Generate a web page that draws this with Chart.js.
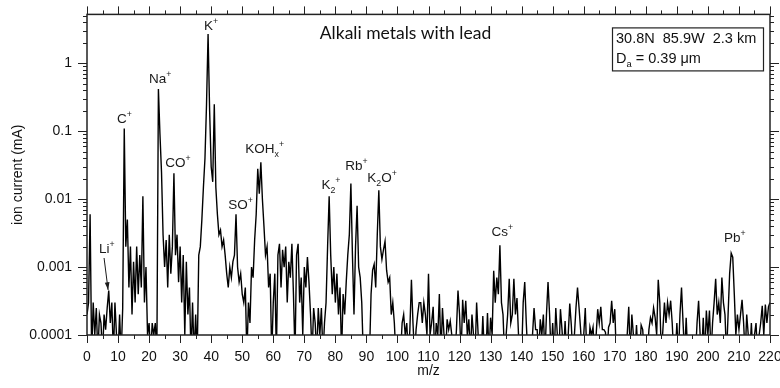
<!DOCTYPE html>
<html>
<head>
<meta charset="utf-8">
<script src="https://cdn.jsdelivr.net/npm/chart.js@4.4.1/dist/chart.umd.min.js"></script>
<style>
  html, body { margin: 0; padding: 0; background: #fff; }
</style>
</head>
<body>
<canvas id="spectrum" width="780" height="388"></canvas>
<script>
// m/z is sampled every half unit, starting at 0
const mzStep = 0.5;

// ion current (mA), one row per 10 m/z; anything under 1e-4 drops off the axis
const ionCurrent = [
  2e-4, 3e-4, 6e-3, 5e-5, 3e-4, 1e-4, 2.5e-4, 5e-5, 2e-4, 1.5e-4, 5e-5, 2e-4, 1.2e-4, 2.5e-4, 4.5e-4, 1.5e-4, 3e-4, 5e-5, 3e-4, 1e-4,
  5e-5, 2e-4, 5e-5, 2.5e-4, 0.11, 2e-3, 5e-3, 5e-4, 2e-3, 2e-4, 1.2e-3, 3e-4, 2e-3, 4e-4, 1.5e-3, 5e-4, 0.011, 3e-4, 1e-3, 1e-4,
  1.5e-4, 5e-5, 1.5e-4, 1e-4, 1.5e-4, 5e-5, 0.42, 0.09, 0.025, 3e-3, 1e-3, 2.5e-3, 5e-4, 3e-3, 8e-4, 2e-3, 0.024, 1.5e-3, 3e-3, 6e-4,
  2e-3, 3e-4, 1.5e-3, 1e-4, 1.2e-3, 2e-4, 5e-4, 5e-5, 3e-4, 5e-5, 2e-4, 5e-5, 1.5e-3, 2e-3, 5e-3, 0.015, 0.04, 0.25, 2.7, 0.2,
  0.03, 0.018, 0.25, 0.015, 6e-3, 3e-3, 3.5e-3, 2e-3, 2.5e-3, 1.5e-3, 8e-4, 5e-4, 1e-3, 7e-4, 1.2e-3, 1.5e-3, 6e-3, 1e-3, 6e-4, 8e-4,
  4e-4, 3e-4, 5e-4, 5e-5, 3e-4, 1.5e-4, 1e-3, 7e-4, 2.5e-3, 6e-3, 0.028, 0.012, 0.035, 0.01, 4e-3, 1.5e-3, 2e-3, 5e-4, 8e-4, 5e-5,
  3e-4, 8e-4, 5e-5, 1.5e-3, 2.2e-3, 5e-4, 1.8e-3, 1e-3, 2e-3, 3e-4, 1.2e-3, 7e-4, 2.2e-3, 4e-4, 5e-5, 1.5e-3, 2.2e-3, 3e-4, 7e-4, 1e-4,
  1e-3, 5e-4, 1.4e-3, 6e-4, 2e-4, 5e-5, 2.5e-4, 1.5e-4, 5e-5, 2.5e-4, 1e-4, 2.5e-4, 5e-5, 1.5e-4, 3e-4, 2e-3, 0.011, 1.5e-3, 4e-4, 1e-3,
  3e-4, 8e-4, 2e-4, 5e-4, 5e-5, 4e-4, 2e-4, 6e-4, 1.5e-3, 3e-3, 0.017, 1.5e-3, 2e-4, 2e-3, 8e-3, 1e-3, 7e-4, 3e-4, 5e-5, 1e-4,
  5e-5, 1e-4, 5e-5, 4e-4, 9e-4, 1.1e-3, 5e-4, 3e-3, 0.0135, 2e-3, 1.3e-3, 1.8e-3, 2.4e-3, 9e-4, 6e-4, 7e-4, 2e-4, 3e-4, 1.5e-4, 5e-5,
  5e-5, 1e-4, 5e-5, 1.5e-4, 2e-4, 1e-4, 1.5e-4, 5e-5, 1.2e-4, 6.5e-4, 1.5e-4, 5e-5, 1.2e-4, 2e-4, 3e-4, 3e-4, 1.5e-4, 3e-4, 2e-4, 1e-4,
  8e-4, 1e-4, 1.5e-4, 2.6e-4, 5e-5, 1.5e-4, 1e-4, 4e-4, 5e-5, 2.5e-4, 1e-4, 5e-5, 1.7e-4, 1.2e-4, 1.6e-4, 1e-4, 5e-5, 5e-5, 1.2e-4, 4.5e-4,
  2e-4, 5e-5, 3.3e-4, 1.5e-4, 3.2e-4, 1e-4, 1.7e-4, 5e-5, 2e-4, 1e-4, 5e-5, 3e-4, 1e-4, 5e-5, 5e-5, 1.9e-4, 5e-5, 5e-5, 2.1e-4, 5e-5,
  1.8e-4, 1e-4, 8.8e-4, 3e-4, 7e-4, 4e-4, 2.1e-3, 3e-4, 2e-4, 5e-5, 1e-4, 2e-4, 6.7e-4, 1.5e-4, 2e-4, 6.7e-4, 2e-4, 3.5e-4, 1e-4, 5e-5,
  5e-5, 3e-4, 6e-4, 1.5e-4, 5e-5, 5e-5, 5e-5, 1e-4, 2.5e-4, 1.2e-4, 1.2e-4, 5e-5, 1.7e-4, 1e-4, 2e-4, 5e-5, 2e-4, 6e-4, 2e-4, 5e-5,
  1.5e-4, 5e-5, 2.5e-4, 1e-4, 5e-5, 2.4e-4, 1.2e-4, 5e-5, 1.6e-4, 5e-5, 1e-4, 2.9e-4, 1.4e-4, 5e-5, 1e-4, 2.5e-4, 5e-4, 2.5e-4, 1.2e-4, 5e-5,
  1e-4, 2.5e-4, 5e-5, 5e-5, 1.3e-4, 1e-4, 1.3e-4, 5e-5, 1e-4, 2.4e-4, 1.5e-4, 2.6e-4, 1.2e-4, 1.2e-4, 1.1e-4, 5e-5, 1.3e-4, 1.5e-4, 3.2e-4, 1.5e-4,
  2.4e-4, 5e-5, 5e-5, 5e-5, 5e-5, 5e-5, 5e-5, 5e-5, 1e-4, 2.6e-4, 5e-5, 2e-4, 1e-4, 5e-5, 1.4e-4, 5e-5, 5e-5, 1.4e-4, 1.2e-4, 5e-5,
  5e-5, 5e-5, 1.2e-4, 1.8e-4, 1.5e-4, 2.5e-4, 1.8e-4, 1e-4, 6.5e-4, 3e-4, 5e-5, 1.2e-4, 3e-4, 1.5e-4, 3e-4, 2e-4, 3.2e-4, 1.5e-4, 5e-5, 5e-5,
  1.5e-4, 5e-5, 2e-4, 5e-4, 1.5e-4, 5e-5, 1.8e-4, 5e-5, 5e-5, 5e-5, 5e-5, 1e-4, 5e-5, 1.5e-4, 3.2e-4, 1e-4, 5e-5, 1.8e-4, 5e-5, 2.3e-4,
  1e-4, 2.3e-4, 5e-5, 1.5e-4, 3e-4, 6.7e-4, 2e-4, 3e-4, 1.5e-4, 7e-4, 3e-4, 2e-4, 5e-5, 2e-4, 8e-4, 1.6e-3, 1.4e-3, 4e-4, 1e-4, 2e-4,
  1.2e-4, 2e-4, 3.3e-4, 1.5e-4, 5e-5, 2e-4, 1e-4, 5e-5, 1.5e-4, 5e-5, 1e-4, 1.5e-4, 5e-5, 1e-4, 1.5e-4, 2.7e-4, 1e-4, 2.8e-4, 1.5e-4, 2.6e-4,
  3e-4
];

const xMin = 0, xMax = 220;
const yMin = 1e-4, yMax = 5.25;

// peak labels: markup (_ = subscript, ^ = superscript), left edge in m/z, baseline in mA
const peakLabels = [
  { text: 'Li^+',     mz: 3.9,   at: 0.0016 },
  { text: 'C^+',      mz: 9.7,   at: 0.131 },
  { text: 'Na^+',     mz: 20.0,  at: 0.508 },
  { text: 'CO^+',     mz: 25.2,  at: 0.0296 },
  { text: 'K^+',      mz: 37.7,  at: 3.06 },
  { text: 'SO^+',     mz: 45.5,  at: 0.0071 },
  { text: 'KOH_x^+',  mz: 51.0,  at: 0.0475 },
  { text: 'K_2^+',    mz: 75.5,  at: 0.014 },
  { text: 'Rb^+',     mz: 83.2,  at: 0.0267 },
  { text: 'K_2O^+',   mz: 90.3,  at: 0.0178 },
  { text: 'Cs^+',     mz: 130.3, at: 0.00286 },
  { text: 'Pb^+',     mz: 205.2, at: 0.00233 }
];
// arrow from the Li label down to its peak: [m/z, mA] tail then head
const liArrow = [[5.5, 0.00136], [6.8, 0.00046]];

const chartTitle = 'Alkali metals with lead';
const infoLines = ['30.8N  85.9W  2.3 km', 'D_a = 0.39 μm'];

const FONT = '"Liberation Sans", Arial, sans-serif';

function drawRich(ctx, markup, x, y, size) {
  let cx = x;
  for (let i = 0; i < markup.length; i++) {
    let ch = markup[i], dy = 0, s = size;
    if (ch === '_' || ch === '^') {
      dy = ch === '_' ? size * 0.28 : -size * 0.45;
      s = size * 0.65;
      ch = markup[++i];
    }
    ctx.font = s + 'px ' + FONT;
    ctx.fillText(ch, cx, y + dy);
    cx += ctx.measureText(ch).width;
  }
}

const isDecade = v => Math.abs(Math.log10(v) - Math.round(Math.log10(v))) < 1e-6;

const framePlugin = {
  id: 'frameAndNotes',
  afterDatasetsDraw(chart) {
    const { ctx, chartArea: a, scales: { x, y } } = chart;
    ctx.save();

    // tick marks on all four sides, outward
    ctx.strokeStyle = '#222';
    ctx.lineWidth = 1;
    ctx.beginPath();
    for (let m = xMin; m <= xMax; m += 5) {
      const px = Math.round(x.getPixelForValue(m)) + 0.5;
      const len = m % 10 === 0 ? 8 : 4;
      ctx.moveTo(px, a.bottom); ctx.lineTo(px, a.bottom + len);
      ctx.moveTo(px, a.top); ctx.lineTo(px, a.top - len);
    }
    for (let e = -4; e <= 0; e++) {
      for (let k = 1; k <= 9; k++) {
        const v = k * Math.pow(10, e);
        if (v > yMax) break;
        const py = Math.round(y.getPixelForValue(v)) + 0.5;
        const len = k === 1 ? 9 : 4;
        ctx.moveTo(a.left, py); ctx.lineTo(a.left - len, py);
        ctx.moveTo(a.right, py); ctx.lineTo(a.right + len, py);
      }
    }
    ctx.stroke();

    ctx.lineWidth = 1.5;
    ctx.strokeRect(a.left, a.top, a.right - a.left, a.bottom - a.top);

    // peak labels
    ctx.fillStyle = '#1a1a1a';
    ctx.textBaseline = 'alphabetic';
    ctx.textAlign = 'left';
    peakLabels.forEach(p => {
      drawRich(ctx, p.text, x.getPixelForValue(p.mz), y.getPixelForValue(p.at), 13.5);
    });

    // Li arrow
    const tx = x.getPixelForValue(liArrow[0][0]), ty = y.getPixelForValue(liArrow[0][1]);
    const hx = x.getPixelForValue(liArrow[1][0]), hy = y.getPixelForValue(liArrow[1][1]);
    const ang = Math.atan2(hy - ty, hx - tx);
    ctx.strokeStyle = '#1a1a1a';
    ctx.lineWidth = 1;
    ctx.beginPath();
    ctx.moveTo(tx, ty); ctx.lineTo(hx, hy);
    ctx.stroke();
    ctx.beginPath();
    ctx.moveTo(hx, hy);
    ctx.lineTo(hx - 8 * Math.cos(ang - 0.3), hy - 8 * Math.sin(ang - 0.3));
    ctx.lineTo(hx - 8 * Math.cos(ang + 0.3), hy - 8 * Math.sin(ang + 0.3));
    ctx.closePath();
    ctx.fill();

    // title inside the plot
    ctx.font = '17.5px Lato, "Open Sans", sans-serif';
    ctx.textAlign = 'center';
    ctx.fillStyle = '#111';
    ctx.fillText(chartTitle, (a.left + a.right) / 2 - 23, a.top + 25);

    // info box, top right
    const bx = a.right - 158, by = a.top + 13, bw = 151, bh = 43;
    ctx.fillStyle = '#fff';
    ctx.fillRect(bx, by, bw, bh);
    ctx.strokeStyle = '#222';
    ctx.lineWidth = 1.2;
    ctx.strokeRect(bx + 0.5, by + 0.5, bw, bh);
    ctx.fillStyle = '#111';
    ctx.textAlign = 'left';
    drawRich(ctx, infoLines[0], bx + 4, by + 16, 14.5);
    drawRich(ctx, infoLines[1], bx + 4, by + 36, 14.5);

    ctx.restore();
  }
};

const points = ionCurrent.map((v, i) => ({ x: xMin + i * mzStep, y: v }));

new Chart(document.getElementById('spectrum'), {
  type: 'line',
  data: {
    datasets: [{
      data: points,
      borderColor: '#000',
      borderWidth: 1.4,
      pointRadius: 0,
      tension: 0,
      fill: false,
      clip: 0
    }]
  },
  options: {
    responsive: false,
    animation: false,
    devicePixelRatio: 1,
    layout: { padding: { top: 14, right: 10, left: 0, bottom: 0 } },
    plugins: {
      legend: { display: false },
      tooltip: { enabled: false }
    },
    scales: {
      x: {
        type: 'linear',
        min: xMin,
        max: xMax,
        grid: { display: true, drawOnChartArea: false, tickLength: 8, color: 'transparent' },
        border: { display: false },
        ticks: {
          stepSize: 10,
          autoSkip: false,
          maxRotation: 0,
          padding: 6,
          color: '#111',
          font: { family: FONT, size: 14 }
        },
        title: {
          display: true,
          text: 'm/z',
          color: '#111',
          font: { family: FONT, size: 14 },
          padding: { top: 0, bottom: 8 }
        },
        afterFit: s => { s.height = 53; s.paddingLeft = 0; s.paddingRight = 0; }
      },
      y: {
        type: 'logarithmic',
        min: yMin,
        max: yMax,
        grid: { display: true, drawOnChartArea: false, tickLength: 9, color: 'transparent' },
        border: { display: false },
        ticks: {
          autoSkip: false,
          padding: 6,
          color: '#111',
          font: { family: FONT, size: 14 },
          callback: v => isDecade(v) ? String(Math.pow(10, Math.round(Math.log10(v)))) : ''
        },
        title: {
          display: true,
          text: 'ion current (mA)',
          color: '#111',
          font: { family: FONT, size: 14 },
          padding: { top: 10, bottom: 0 }
        },
        afterFit: s => { s.width = 87; }
      }
    }
  },
  plugins: [framePlugin]
});
</script>
</body>
</html>
